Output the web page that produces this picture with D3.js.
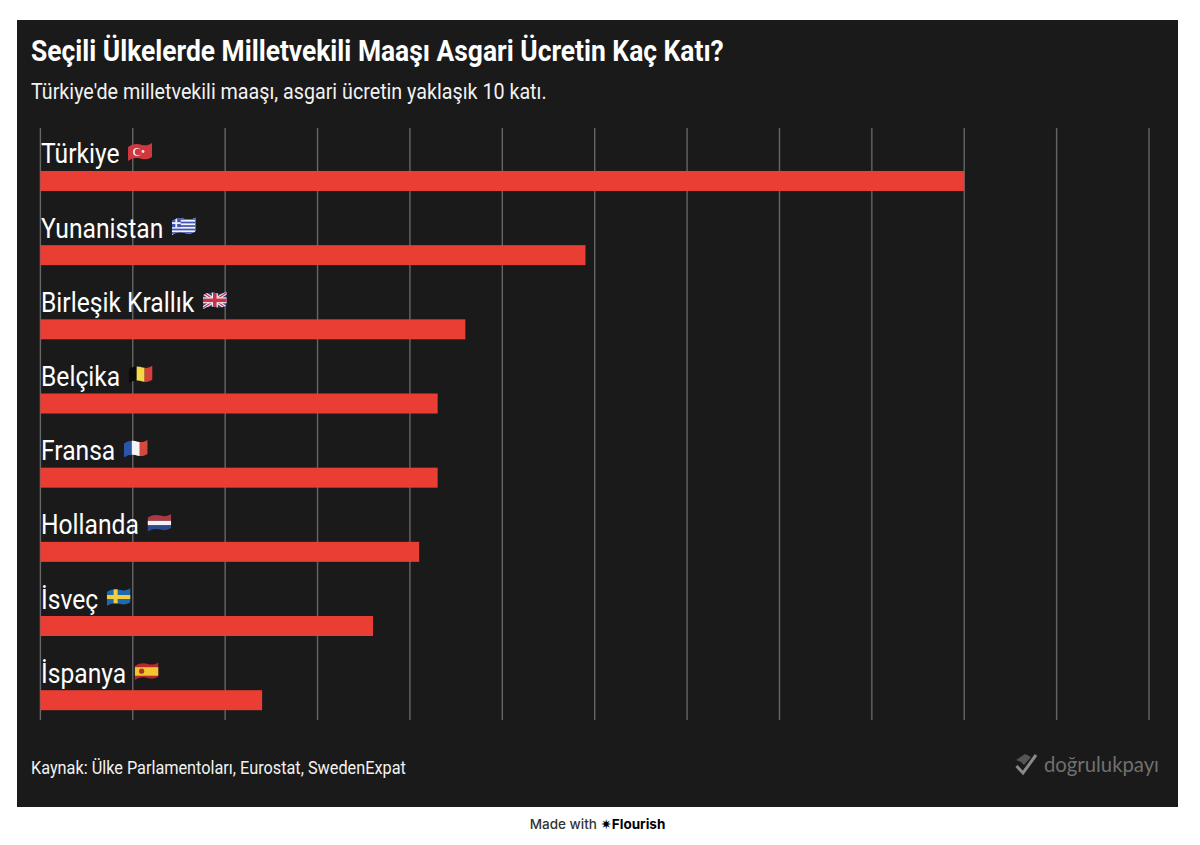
<!DOCTYPE html>
<html lang="tr">
<head>
  <meta charset="UTF-8" />
  <title>Seçili Ülkelerde Milletvekili Maaşı</title>
  <script src="https://d3js.org/d3.v7.min.js"></script>
  <style>
    html, body { margin: 0; padding: 0; background: #fff; }
    svg { display: block; }
    text { font-family: Roboto, sans-serif; }
  </style>
</head>
<body>
  <svg id="chart" width="1200" height="845"></svg>
  <script>
    const countries = ["Türkiye", "Yunanistan", "Birleşik Krallık", "Belçika", "Fransa", "Hollanda", "İsveç", "İspanya"];
    const ratios = [10, 5.9, 4.6, 4.3, 4.3, 4.1, 3.6, 2.4];
    const flagCodes = ["tr", "gr", "gb", "be", "fr", "nl", "se", "es"];
    const axisTicks = [0, 1, 2, 3, 4, 5, 6, 7, 8, 9, 10, 11, 12];

    const title = "Seçili Ülkelerde Milletvekili Maaşı Asgari Ücretin Kaç Katı?";
    const subtitle = "Türkiye'de milletvekili maaşı, asgari ücretin yaklaşık 10 katı.";
    const source = "Kaynak: Ülke Parlamentoları, Eurostat, SwedenExpat";

    const svg = d3.select("#chart");
    const condense = 0.88; // no Roboto Condensed here, so squeeze Roboto

    const defs = svg.append("defs");
    defs.append("clipPath").attr("id", "wave")
      .append("path")
      .attr("d", "M0,4 C6,0 10,1 14,2 C18,3 21,2 24,0 L24,14 C21,16 18,17 14,16 C10,15 6,14 0,18 Z");

    // dark card
    svg.append("rect")
      .attr("x", 17).attr("y", 20)
      .attr("width", 1161).attr("height", 787)
      .attr("fill", "#1a1a1a");

    const x = d3.scaleLinear().domain([0, 12]).range([40.4, 1149]);
    const y = d3.scaleBand().domain(countries).range([116.8, 710.2]);
    const barHeight = 20;

    // grid lines
    const axis = svg.append("g")
      .attr("transform", "translate(0,720)")
      .call(d3.axisBottom(x).offset(0).tickValues(axisTicks).tickSize(-592).tickSizeOuter(0).tickFormat(""));
    axis.select(".domain").remove();
    axis.selectAll(".tick line").attr("stroke", "#666").attr("stroke-width", 1.4);

    function squeezed(parent, str, px, py, size, weight, fill) {
      return parent.append("text")
        .attr("transform", `translate(${px},${py}) scale(${condense},1)`)
        .attr("font-size", size)
        .attr("font-weight", weight)
        .attr("fill", fill)
        .text(str);
    }

    squeezed(svg, title, 31, 61, 30, 700, "#fff");
    squeezed(svg, subtitle, 31, 98.5, 22.4, 400, "#f2f2f2");
    squeezed(svg, source, 31, 774, 18.5, 400, "#f2f2f2");

    // bars
    svg.selectAll(".bar")
      .data(countries)
      .enter().append("rect")
      .attr("class", "bar")
      .attr("x", x(0))
      .attr("y", d => y(d) + y.bandwidth() - barHeight)
      .attr("width", (d, i) => x(ratios[i]) - x(0))
      .attr("height", barHeight)
      .attr("fill", "#ea3e35");

    // small waving flags, 24 x 18 box
    function drawFlag(g, code) {
      const f = g.append("g").attr("clip-path", "url(#wave)");
      const r = (a, b, w, h, c) => f.append("rect").attr("x", a).attr("y", b).attr("width", w).attr("height", h).attr("fill", c);
      if (code === "tr") {
        r(0, 0, 24, 18, "#d0373f");
        f.append("circle").attr("cx", 9).attr("cy", 9).attr("r", 4).attr("fill", "#f5e6e6");
        f.append("circle").attr("cx", 10).attr("cy", 9).attr("r", 3.2).attr("fill", "#d0373f");
        f.append("circle").attr("cx", 15).attr("cy", 8.5).attr("r", 1.4).attr("fill", "#f5e6e6");
      } else if (code === "gr") {
        r(0, 0, 24, 18, "#eef0fa");
        [1, 4.5, 8, 11.5, 15].forEach(b => r(0, b, 24, 1.7, "#3f55b5"));
        r(0, 0, 9, 10, "#3f55b5");
        r(3.6, 0, 1.8, 10, "#eef0fa");
        r(0, 5, 9, 1.8, "#eef0fa");
      } else if (code === "gb") {
        r(0, 0, 24, 18, "#2f3f8f");
        f.append("path").attr("d", "M0,1 L24,17 M24,1 L0,17").attr("stroke", "#eee").attr("stroke-width", 3.5);
        f.append("path").attr("d", "M0,1 L24,17 M24,1 L0,17").attr("stroke", "#c8324a").attr("stroke-width", 1.2);
        r(9, 0, 6, 18, "#eee");
        r(0, 6, 24, 6, "#eee");
        r(10.2, 0, 3.6, 18, "#c8324a");
        r(0, 7.2, 24, 3.6, "#c8324a");
      } else if (code === "be") {
        r(0, 0, 8, 18, "#0a0a0a");
        r(8, 0, 8, 18, "#f3d84b");
        r(16, 0, 8, 18, "#d6403a");
      } else if (code === "fr") {
        r(0, 0, 8, 18, "#2a55a8");
        r(8, 0, 8, 18, "#f4f4f4");
        r(16, 0, 8, 18, "#d5483f");
      } else if (code === "nl") {
        r(0, 0, 24, 7, "#a83a45");
        r(0, 7, 24, 4.5, "#f2f2f2");
        r(0, 11.5, 24, 6.5, "#2f4a90");
      } else if (code === "se") {
        r(0, 0, 24, 18, "#1f69b0");
        r(7, 0, 4, 18, "#f2cf3a");
        r(0, 7, 24, 4, "#f2cf3a");
      } else if (code === "es") {
        r(0, 0, 24, 18, "#b8282e");
        r(0, 5, 24, 8.5, "#f3c62f");
        f.append("circle").attr("cx", 7).attr("cy", 9).attr("r", 2.6).attr("fill", "#a33a2a");
      }
    }

    // country labels with a flag after the text
    countries.forEach((name, i) => {
      const base = y(name) + y.bandwidth() - barHeight - 7.5;
      const label = squeezed(svg, name, 41, base, 28, 400, "#fff");
      const end = 41 + label.node().getComputedTextLength() * condense;
      const flag = svg.append("g").attr("transform", `translate(${end + 8.5},${base - 20.5})`);
      drawFlag(flag, flagCodes[i]);
    });

    // logo
    const logo = svg.append("g").attr("transform", "translate(1015,754)");
    logo.append("path").attr("d", "M1,6 L10,0 L16,3 L9,11 L6,8 Z").attr("fill", "#555");
    logo.append("path").attr("d", "M1.5,12 L8,19 L21,1").attr("fill", "none").attr("stroke", "#8a8a8a").attr("stroke-width", 3);
    svg.append("text")
      .attr("x", 1044).attr("y", 772)
      .attr("font-size", 20.3)
      .attr("fill", "#707070")
      .style("font-family", "Lato, sans-serif")
      .text("doğrulukpayı");

    // footer
    const made = svg.append("text")
      .attr("x", 597.5).attr("y", 829)
      .attr("text-anchor", "middle")
      .attr("font-size", 13.5)
      .style("font-family", "Inter, sans-serif")
      .attr("fill", "#333");
    made.append("tspan").attr("font-weight", 500).text("Made with ");
    made.append("tspan").attr("fill", "#000").style("font-family", "DejaVu Sans").text("✷");
    made.append("tspan").attr("fill", "#000").attr("font-weight", 700).text("Flourish");
  </script>
</body>
</html>
